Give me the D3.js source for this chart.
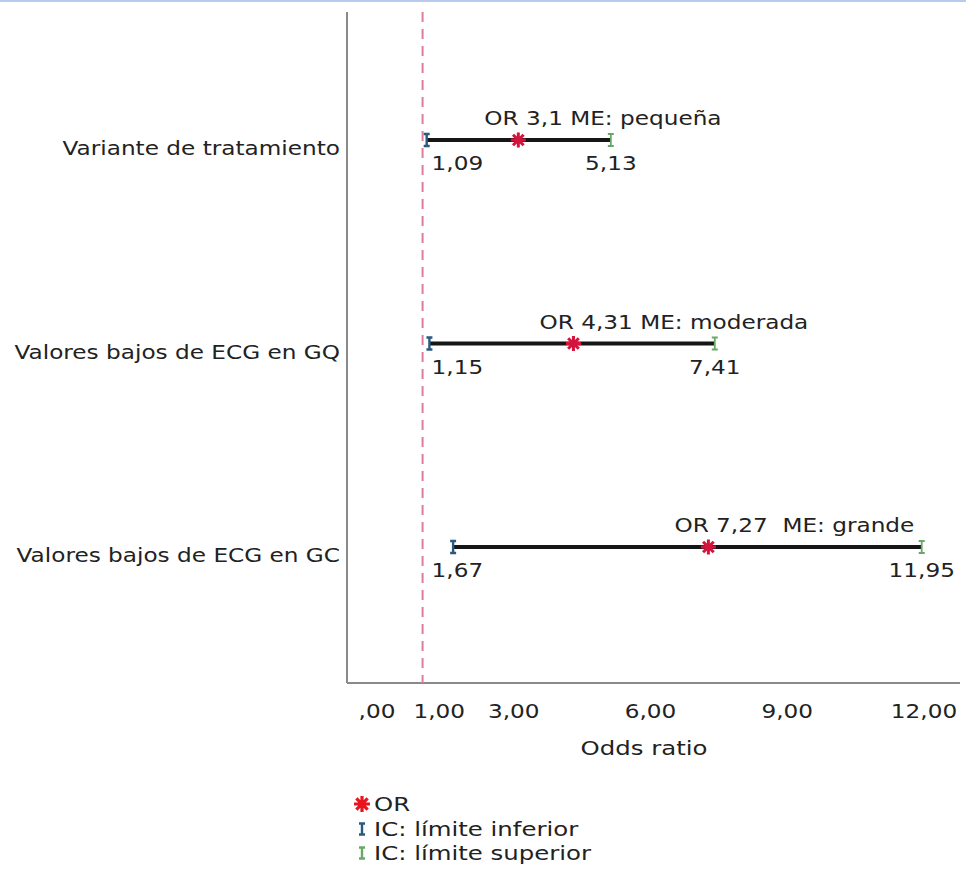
<!DOCTYPE html>
<html>
<head>
<meta charset="utf-8">
<script src="https://cdn.jsdelivr.net/npm/d3@7"></script>
<style>
  body { margin: 0; background: #fff; }
  svg { display: block; }
  text { font-family: "DejaVu Sans", Verdana, sans-serif; fill: #222; }
</style>
</head>
<body>
<div class="chart"></div>
<script>
// data
const categories = ['Variante de tratamiento', 'Valores bajos de ECG en GQ', 'Valores bajos de ECG en GC'];
const orValues = [3.1, 4.31, 7.27];
const lowerValues = [1.09, 1.15, 1.67];
const upperValues = [5.13, 7.41, 11.95];
const notes = ['OR 3,1 ME: pequeña', 'OR 4,31 ME: moderada', 'OR 7,27\u00a0 ME: grande'];
const tickValues = [0, 1, 3, 6, 9, 12];
const refValue = 1;

const W = 966, H = 884;
let margin = { top: 12, right: 6, left: 347 },
    axisY = 683,
    sx = 1.22; // the source font is drawn wider than DejaVu

let svg = d3.select('.chart').append('svg')
    .attr('width', W)
    .attr('height', H);

// places a text at (x, y) and widens it horizontally
function place(sel, fx, fy) {
    sel.attr('x', 0).attr('y', 0)
        .attr('transform', function (d, i) {
            return 'translate(' + fx.call(this, d, i) + ',' + fy.call(this, d, i) + ') scale(' + sx + ',1)';
        });
}

// thin blue line along the top edge
svg.append('rect')
    .attr('x', 0).attr('y', 0)
    .attr('width', W).attr('height', 2)
    .attr('fill', '#b7cbef');

let x = d3.scaleLinear().domain([0, 12]).range([377, 924]);
let y = d3.scalePoint().domain(categories).range([140, 547]);

let fmt = v => d3.format('.2f')(v).replace('.', ',').replace(/^0,/, ',');

// frame: left axis line
svg.append('line')
    .attr('x1', margin.left).attr('x2', margin.left)
    .attr('y1', margin.top).attr('y2', axisY)
    .attr('stroke', '#8a8a8a').attr('stroke-width', 2);

let xAxis = d3.axisBottom(x)
    .tickValues(tickValues)
    .tickSize(0)
    .tickPadding(22)
    .tickFormat(fmt);

let gx = svg.append('g')
    .attr('transform', 'translate(0,' + axisY + ')')
    .call(xAxis);
gx.select('.domain').remove();
gx.selectAll('text')
    .style('font-family', '"DejaVu Sans", Verdana, sans-serif')
    .style('font-size', '19px')
    .attr('fill', '#222')
    .attr('transform', 'scale(' + sx + ',1)');

// nudge tick labels to the right when they would run into the previous one
let prevRight = -Infinity;
gx.selectAll('.tick').each(function (d) {
    let t = d3.select(this).select('text').node();
    let half = t.getComputedTextLength() * sx / 2;
    let cx = Math.max(x(d), prevRight + 18 + half);
    d3.select(this).attr('transform', 'translate(' + cx + ',0)');
    prevRight = cx + half;
});

svg.append('line')
    .attr('x1', margin.left).attr('x2', W - margin.right)
    .attr('y1', axisY).attr('y2', axisY)
    .attr('stroke', '#8a8a8a').attr('stroke-width', 2);

svg.append('text')
    .attr('text-anchor', 'middle')
    .style('font-size', '20px')
    .text('Odds ratio')
    .call(place, () => (margin.left + W - 25) / 2, () => 755);

// reference line at OR = 1
svg.append('line')
    .attr('x1', x(refValue)).attr('x2', x(refValue))
    .attr('y1', margin.top).attr('y2', axisY)
    .attr('stroke', '#de7c9c')
    .attr('stroke-width', 2)
    .attr('stroke-dasharray', '10,7');

// category labels
svg.selectAll('.cat')
    .data(categories)
    .enter().append('text')
    .attr('class', 'cat')
    .attr('text-anchor', 'end')
    .style('font-size', '19px')
    .text(d => d)
    .call(place, () => margin.left - 7, d => y(d) + 15);

let rows = categories.map((c, i) => ({
    cat: c, or: orValues[i], lo: lowerValues[i], hi: upperValues[i], note: notes[i]
}));

// CI lines
svg.selectAll('.ci')
    .data(rows)
    .enter().append('line')
    .attr('class', 'ci')
    .attr('x1', d => x(d.lo)).attr('x2', d => x(d.hi))
    .attr('y1', d => y(d.cat)).attr('y2', d => y(d.cat))
    .attr('stroke', '#161616')
    .attr('stroke-width', 4);

function capPath(h, w) {
    return 'M' + (-w) + ',' + (-h) + 'H' + w + 'M0,' + (-h) + 'V' + h + 'M' + (-w) + ',' + h + 'H' + w;
}

function starPath(r) {
    let p = '';
    for (let k = 0; k < 4; k++) {
        let a = k * Math.PI / 4;
        p += 'M' + (-r * Math.cos(a)) + ',' + (-r * Math.sin(a)) + 'L' + (r * Math.cos(a)) + ',' + (r * Math.sin(a));
    }
    return p;
}

svg.selectAll('.lo')
    .data(rows)
    .enter().append('path')
    .attr('class', 'lo')
    .attr('transform', d => 'translate(' + x(d.lo) + ',' + y(d.cat) + ')')
    .attr('d', capPath(6, 3))
    .attr('fill', 'none')
    .attr('stroke', '#2b5a80')
    .attr('stroke-width', 2.4);

svg.selectAll('.hi')
    .data(rows)
    .enter().append('path')
    .attr('class', 'hi')
    .attr('transform', d => 'translate(' + x(d.hi) + ',' + y(d.cat) + ')')
    .attr('d', capPath(6, 3))
    .attr('fill', 'none')
    .attr('stroke', '#6aa86a')
    .attr('stroke-width', 1.8);

svg.selectAll('.or')
    .data(rows)
    .enter().append('path')
    .attr('class', 'or')
    .attr('transform', d => 'translate(' + x(d.or) + ',' + y(d.cat) + ')')
    .attr('d', starPath(7.5))
    .attr('stroke', '#d4143c')
    .attr('stroke-width', 3);

// annotations above each line
svg.selectAll('.note')
    .data(rows)
    .enter().append('text')
    .attr('class', 'note')
    .style('font-size', '19px')
    .text(d => d.note)
    .call(place, d => x(d.or) - 34, d => y(d.cat) - 15);

// value labels below
svg.selectAll('.hiLab')
    .data(rows)
    .enter().append('text')
    .attr('class', 'hiLab')
    .attr('text-anchor', 'middle')
    .style('font-size', '19px')
    .text(d => fmt(d.hi))
    .call(place, d => x(d.hi), d => y(d.cat) + 30);

svg.selectAll('.loLab')
    .data(rows)
    .enter().append('text')
    .attr('class', 'loLab')
    .attr('text-anchor', 'middle')
    .style('font-size', '19px')
    .text(d => fmt(d.lo))
    .call(place, function (d) {
        // keep the label clear of the dashed reference line
        let half = this.getComputedTextLength() * sx / 2;
        return Math.max(x(d.lo), x(refValue) + 9 + half);
    }, d => y(d.cat) + 30);

// legend
let legend = svg.append('g').attr('transform', 'translate(362,0)');
let items = [
    { label: 'OR', y: 804, kind: 'or' },
    { label: 'IC: límite inferior', y: 829, kind: 'lo' },
    { label: 'IC: límite superior', y: 853, kind: 'hi' }
];
items.forEach(it => {
    let g = legend.append('g').attr('transform', 'translate(0,' + it.y + ')');
    if (it.kind === 'or') {
        g.append('path').attr('d', starPath(8)).attr('stroke', '#e8141e').attr('stroke-width', 3.2);
    } else {
        g.append('path').attr('d', capPath(5.5, 3)).attr('fill', 'none')
            .attr('stroke', it.kind === 'lo' ? '#2b5a80' : '#6aa86a')
            .attr('stroke-width', 2.4);
    }
    g.append('text')
        .style('font-size', '20px')
        .text(it.label)
        .call(place, () => 12, () => 7);
});
</script>
</body>
</html>
